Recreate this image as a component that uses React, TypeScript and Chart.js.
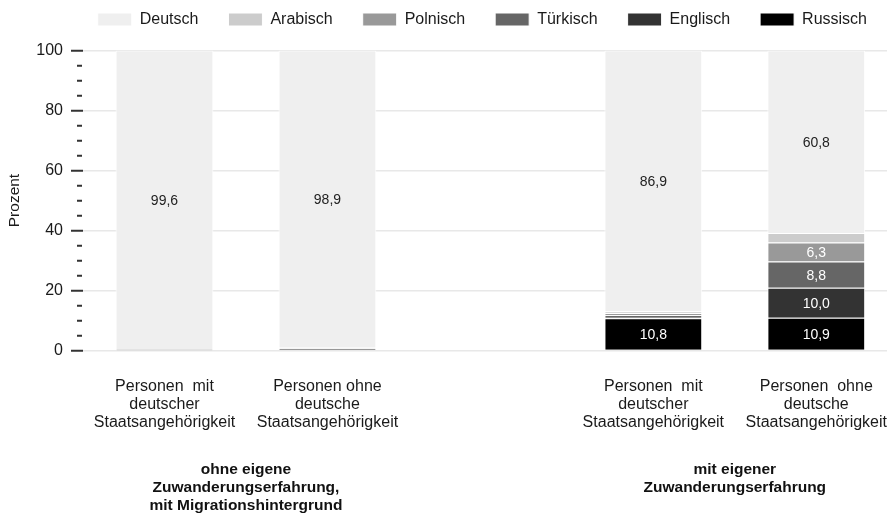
import React, { useEffect, useRef } from "react";
import { Chart, registerables } from "chart.js";

Chart.register(...registerables);

const categories: (string | string[])[] = [
  ["Personen  mit", "deutscher", "Staatsangehörigkeit"],
  ["Personen ohne", "deutsche", "Staatsangehörigkeit"],
  "",
  ["Personen  mit", "deutscher", "Staatsangehörigkeit"],
  ["Personen  ohne", "deutsche", "Staatsangehörigkeit"],
];

// group axis: 6 slots at category boundaries (0..5); groups sit at boundary 1 and 4
const groupLabels: (string | string[])[] = [
  "",
  ["ohne eigene", "Zuwanderungserfahrung,", "mit Migrationshintergrund"],
  "",
  "",
  ["mit eigener", "Zuwanderungserfahrung"],
  "",
];

// stacked bottom-up
const russisch = [0.05, 0.2, null, 10.8, 10.9];
const englisch = [0.05, 0.1, null, 0.4, 10.0];
const tuerkisch = [0.1, 0.4, null, 0.6, 8.8];
const polnisch = [0.1, 0.2, null, 0.7, 6.3];
const arabisch = [0.1, 0.2, null, 0.6, 3.2];
const deutsch = [99.6, 98.9, null, 86.9, 60.8];

const yTicks = [0, 20, 40, 60, 80, 100];

const FONT = '"Liberation Sans", Arial, Helvetica, sans-serif';
const CANVAS_W = 906;

const valueLabels = {
  id: "valueLabels",
  afterDatasetsDraw(chart: any) {
    const ctx = chart.ctx;
    ctx.save();
    ctx.font = `14px ${FONT}`;
    ctx.textAlign = "center";
    ctx.textBaseline = "middle";
    chart.data.datasets.forEach((ds: any, di: number) => {
      const meta = chart.getDatasetMeta(di);
      meta.data.forEach((el: any, i: number) => {
        const v = ds.data[i];
        if (v == null || v < 5) return;
        const p = el.getProps(["x", "y", "base"], true);
        ctx.fillStyle = ds.labelColor;
        ctx.fillText(v.toFixed(1).replace(".", ","), p.x, (p.y + p.base) / 2 + 1);
      });
    });
    ctx.restore();
  },
};

const legendAdjust = {
  id: "legendAdjust",
  afterInit(chart: any) {
    const lg = chart.legend;
    if (!lg || lg.__patched) return;
    const orig = lg.fit;
    lg.fit = function () {
      orig.call(this);
      this.height = 69;
    };
    lg.__patched = true;
  },
  afterLayout(chart: any) {
    const lg = chart.legend;
    if (lg) lg.right = 897;
  },
};

export default function App() {
  const ref = useRef<HTMLCanvasElement | null>(null);
  useEffect(() => {
    if (!ref.current) return;
    Chart.defaults.font.family = FONT;
    Chart.defaults.font.size = 16;
    Chart.defaults.color = "#1a1a1a";
    const mk = (label: string, data: any[], color: string, labelColor: string) => ({
      label,
      data,
      backgroundColor: color,
      borderColor: "#ffffff",
      borderWidth: 1,
      labelColor,
    });
    const chart = new Chart(ref.current, {
      type: "bar",
      data: {
        labels: categories as any,
        datasets: [
          mk("Russisch", russisch, "#000000", "#ffffff"),
          mk("Englisch", englisch, "#333333", "#ffffff"),
          mk("Türkisch", tuerkisch, "#666666", "#ffffff"),
          mk("Polnisch", polnisch, "#999999", "#ffffff"),
          mk("Arabisch", arabisch, "#cccccc", "#222222"),
          mk("Deutsch", deutsch, "#efefef", "#222222"),
        ] as any,
      },
      options: {
        responsive: false,
        animation: false,
        events: [],
        layout: { padding: { top: -18.5, bottom: 6.5, left: 0, right: 0 } },
        datasets: { bar: { categoryPercentage: 1, barPercentage: 0.6 } } as any,
        plugins: {
          tooltip: { enabled: false },
          legend: {
            position: "top",
            align: "end",
            reverse: true,
            labels: {
              boxWidth: 34,
              boxHeight: 13,
              padding: 30,
              font: { size: 16 },
              color: "#1a1a1a",
            },
          },
        },
        scales: {
          x: {
            stacked: true,
            weight: 0,
            grid: { display: false },
            border: { display: false },
            ticks: {
              autoSkip: false,
              maxRotation: 0,
              minRotation: 0,
              padding: 19,
              font: { size: 16, lineHeight: 1.125 },
              color: "#1a1a1a",
            },
          },
          x2: {
            type: "category",
            labels: groupLabels,
            position: "bottom",
            weight: 1,
            offset: false,
            grid: { display: false },
            border: { display: false },
            ticks: {
              autoSkip: false,
              maxRotation: 0,
              minRotation: 0,
              padding: 2.5,
              font: { size: 15.5, weight: "bold", lineHeight: 1.16 },
              color: "#111111",
            },
          } as any,
          y: {
            stacked: true,
            min: 0,
            max: 100,
            afterFit: (s: any) => {
              s.width = 83;
            },
            border: { display: false },
            grid: {
              tickLength: 12,
              tickWidth: 2,
              tickColor: "#333333",
              lineWidth: 1.5,
              color: (c: any) =>
                c.tick && yTicks.includes(c.tick.value) ? "#e8e8e8" : "rgba(0,0,0,0)",
              tickBorderDash: (c: any) =>
                c.tick && yTicks.includes(c.tick.value) ? [] : [0, 6, 5, 100],
            } as any,
            ticks: {
              stepSize: 5,
              autoSkip: false,
              padding: 8,
              font: { size: 16 },
              color: "#1a1a1a",
              callback: (v: any) => (yTicks.includes(Number(v)) ? String(v) : ""),
            },
            title: {
              display: true,
              text: "Prozent",
              font: { size: 15.5 },
              color: "#1a1a1a",
              padding: { top: 5.5, bottom: 0 },
            },
          },
        },
      } as any,
      plugins: [valueLabels, legendAdjust],
    });
    return () => chart.destroy();
  }, []);

  return (
    <div
      style={{
        position: "fixed",
        left: 0,
        top: 0,
        width: 887,
        height: 524,
        overflow: "hidden",
        background: "#fff",
      }}
    >
      <canvas
        ref={ref}
        width={CANVAS_W}
        height={524}
        style={{ width: CANVAS_W, height: 524, display: "block" }}
      />
    </div>
  );
}
